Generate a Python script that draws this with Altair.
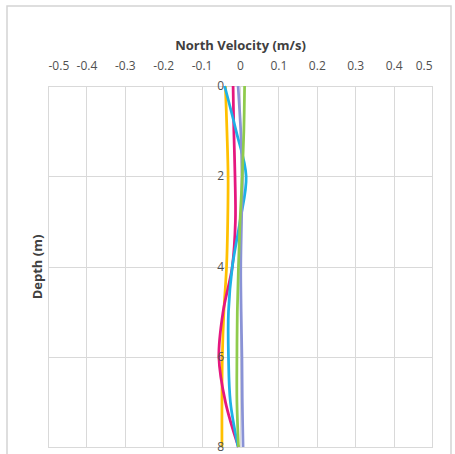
import altair as alt
import pandas as pd

# ---- data ----
depth = [0, 1, 2, 3, 4, 5, 6, 7, 8]
series_names = ["Series 1", "Series 2", "Series 3", "Series 4", "Series 5"]
yellow = [-0.038, -0.034, -0.031, -0.032, -0.035, -0.042, -0.046, -0.047, -0.047]
magenta = [-0.018, -0.016, -0.013, -0.012, -0.020, -0.044, -0.055, -0.038, -0.004]
cyan = [-0.040, -0.010, 0.016, 0.000, -0.020, -0.030, -0.030, -0.025, -0.005]
purple = [-0.005, 0.002, 0.006, 0.004, 0.002, 0.003, 0.005, 0.006, 0.008]
green = [0.012, 0.010, 0.006, 0.000, -0.004, -0.007, -0.008, -0.008, -0.004]
colors = ["#FFC000", "#E5177F", "#1EB1E6", "#8A93D6", "#8FCB4C"]

x_ticks = [-0.5, -0.4, -0.3, -0.2, -0.1, 0, 0.1, 0.2, 0.3, 0.4, 0.5]
y_ticks = [0, 2, 4, 6, 8]

rows = []
for name, vals in zip(series_names, [yellow, magenta, cyan, purple, green]):
    for d, v in zip(depth, vals):
        rows.append({"series": name, "depth": d, "velocity": v})
df = pd.DataFrame(rows)

label_df = pd.DataFrame({"depth": y_ticks, "label": [str(t) for t in y_ticks]})

xscale = alt.Scale(domain=[-0.5, 0.5], nice=False, zero=False)
yscale = alt.Scale(domain=[0, 8], reverse=True, nice=False, zero=False)

frame = alt.Chart(pd.DataFrame({"a": [0]})).mark_rect(
    fillOpacity=0, stroke="#D4D4D4", strokeWidth=1.5
).encode(
    x=alt.value(-41), x2=alt.value(403), y=alt.value(-80), y2=alt.value(400)
)

lines = alt.Chart(df).mark_line(interpolate="catmull-rom", strokeWidth=2.75).encode(
    x=alt.X(
        "velocity:Q",
        scale=xscale,
        axis=alt.Axis(
            orient="top",
            values=x_ticks,
            tickCount=len(x_ticks),
            labelExpr="datum.value < 0 ? '-' + format(-datum.value, '.1~f') : format(datum.value, '.1~f')",
            labelOverlap=False,
            title="North Velocity (m/s)",
            labelPadding=14,
            titlePadding=7,
        ),
    ),
    y=alt.Y(
        "depth:Q",
        scale=yscale,
        axis=alt.Axis(
            values=y_ticks,
            tickCount=len(y_ticks),
            labels=False,
            title="Depth (m)",
            titlePadding=4,
        ),
    ),
    color=alt.Color(
        "series:N",
        scale=alt.Scale(domain=series_names, range=colors),
        legend=None,
    ),
    order="depth:Q",
)

labels = alt.Chart(label_df).mark_text(
    align="right",
    baseline="middle",
    dx=-16,
    font="Open Sans",
    fontSize=12,
    color="#505050",
).encode(
    x=alt.datum(0),
    y=alt.Y("depth:Q", scale=yscale),
    text="label:N",
)

chart = (
    alt.layer(frame, lines, labels)
    .properties(
        width=384,
        height=361,
        autosize=alt.AutoSizeParams(type="none"),
        padding={"left": 48, "top": 86, "right": 23, "bottom": 7},
    )
    .configure_view(stroke="#D0D0D0", strokeWidth=1)
    .configure_axis(
        grid=True,
        gridColor="#D9D9D9",
        gridWidth=1,
        domain=False,
        ticks=False,
        labelFont="Open Sans",
        labelFontSize=12,
        labelColor="#505050",
        titleFont="Open Sans",
        titleFontSize=13,
        titleFontWeight="bold",
        titleColor="#404040",
    )
)

chart.save("out.html", embed_options={"renderer": "svg", "actions": False})
